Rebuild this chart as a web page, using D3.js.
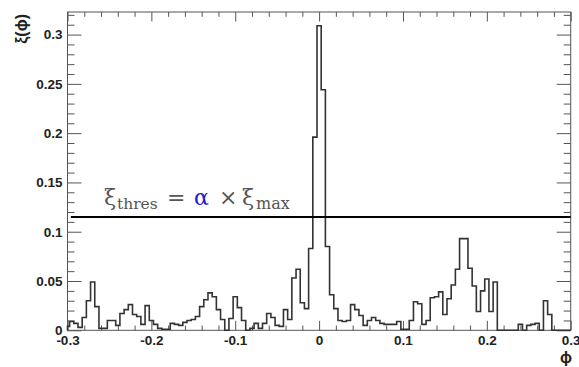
<!DOCTYPE html>
<html><head><meta charset="utf-8">
<script src="https://cdn.jsdelivr.net/npm/d3@7"></script>
<style>
html,body{margin:0;padding:0;background:#fff;}
svg{display:block;}
</style>
</head><body>
<svg id="chart" width="579" height="367"></svg>
<script>
// ---- data ----
const binLowEdge = -0.3025;
const binWidth = 0.005;
const binValues = [
  0.004, 0.009, 0.007, 0.003, 0.013, 0.030, 0.049, 0.024, 0.002, 0.002,
  0.010, 0.010, 0.005, 0.017, 0.021, 0.026, 0.016, 0.014, 0.006, 0.025,
  0.010, 0.006, 0.002, 0.001, 0.001, 0.007, 0.006, 0.005, 0.008, 0.010,
  0.011, 0.014, 0.024, 0.031, 0.038, 0.034, 0.021, 0.011, 0.000, 0.012,
  0.034, 0.023, 0.010, 0.000, 0.002, 0.007, 0.002, 0.007, 0.017, 0.013,
  0.005, 0.004, 0.021, 0.011, 0.053, 0.062, 0.028, 0.022, 0.083, 0.196,
  0.309, 0.244, 0.085, 0.036, 0.022, 0.010, 0.009, 0.010, 0.026, 0.021,
  0.015, 0.005, 0.010, 0.013, 0.010, 0.007, 0.006, 0.006, 0.006, 0.009,
  0.001, 0.001, 0.010, 0.029, 0.027, 0.006, 0.010, 0.033, 0.034, 0.039,
  0.016, 0.032, 0.046, 0.062, 0.093, 0.093, 0.063, 0.045, 0.019, 0.040,
  0.052, 0.019, 0.049, 0.000, 0.000, 0.000, 0.000, 0.000, 0.006, 0.000,
  0.005, 0.006, 0.007, 0.000, 0.030, 0.016, 0.000, 0.000, 0.000, 0.000,
  0.000
];
const xTickValues = [-0.3, -0.2, -0.1, 0, 0.1, 0.2, 0.3];
const xTickLabels = ["-0.3", "-0.2", "-0.1", "0", "0.1", "0.2", "0.3"];
const yTickValues = [0, 0.05, 0.1, 0.15, 0.2, 0.25, 0.3];
const yTickLabels = ["0", "0.05", "0.1", "0.15", "0.2", "0.25", "0.3"];
const thresholdValue = 0.115;
const xTitle = "\u03D5";
const yTitle = "\u03BE(\u03D5)";

// ---- layout ----
const W = 579, H = 367;
const m = {left: 67.5, right: 8.3, top: 12, bottom: 36.7};
const svg = d3.select("#chart");

const xDomain = [-0.3, 0.3];
const x = d3.scaleLinear().domain(xDomain).range([m.left, W - m.right]);
const yMax = d3.max(binValues) * 1.045;
const y = d3.scaleLinear().domain([0, yMax]).range([H - m.bottom, m.top]);

const axisColor = "#555";
const labelFont = "'Liberation Sans', Arial, 'DejaVu Sans', sans-serif";

// minor tick values
const xMinor = d3.range(-15, 16).map(i => i * 0.02).filter(v => !xTickValues.some(t => Math.abs(t - v) < 1e-9));
const yMinor = d3.range(0, 33).map(i => i * 0.01).filter(v => v <= yMax && !yTickValues.some(t => Math.abs(t - v) < 1e-9));

function styleAxis(g) {
  g.select(".domain").remove();
  g.selectAll("line").attr("stroke", axisColor).attr("stroke-width", 1);
  g.selectAll("text").attr("font-family", labelFont).attr("font-weight", "bold")
    .attr("font-size", 13.5).attr("fill", "#222");
}

const bottomY = H - m.bottom, topY = m.top, leftX = m.left, rightX = W - m.right;

// bottom axis
svg.append("g").attr("transform", `translate(0,${bottomY})`)
  .call(d3.axisBottom(x).tickValues(xTickValues).tickSizeInner(-9.5).tickSizeOuter(0).tickPadding(5.5)
    .tickFormat((d, i) => xTickLabels[i]))
  .call(styleAxis);
svg.append("g").attr("transform", `translate(0,${bottomY})`)
  .call(d3.axisBottom(x).tickValues(xMinor).tickSizeInner(-4.8).tickSizeOuter(0).tickFormat(""))
  .call(styleAxis);
// top axis
svg.append("g").attr("transform", `translate(0,${topY})`)
  .call(d3.axisTop(x).tickValues(xTickValues).tickSizeInner(-9.5).tickSizeOuter(0).tickFormat(""))
  .call(styleAxis);
svg.append("g").attr("transform", `translate(0,${topY})`)
  .call(d3.axisTop(x).tickValues(xMinor).tickSizeInner(-4.8).tickSizeOuter(0).tickFormat(""))
  .call(styleAxis);
// left axis
svg.append("g").attr("transform", `translate(${leftX},0)`)
  .call(d3.axisLeft(y).tickValues(yTickValues).tickSizeInner(-14).tickSizeOuter(0).tickPadding(5)
    .tickFormat((d, i) => yTickLabels[i]))
  .call(styleAxis);
svg.append("g").attr("transform", `translate(${leftX},0)`)
  .call(d3.axisLeft(y).tickValues(yMinor).tickSizeInner(-7).tickSizeOuter(0).tickFormat(""))
  .call(styleAxis);
// right axis
svg.append("g").attr("transform", `translate(${rightX},0)`)
  .call(d3.axisRight(y).tickValues(yTickValues).tickSizeInner(-14).tickSizeOuter(0).tickFormat(""))
  .call(styleAxis);
svg.append("g").attr("transform", `translate(${rightX},0)`)
  .call(d3.axisRight(y).tickValues(yMinor).tickSizeInner(-7).tickSizeOuter(0).tickFormat(""))
  .call(styleAxis);

// frame
svg.append("rect").attr("x", leftX).attr("y", topY)
  .attr("width", rightX - leftX).attr("height", bottomY - topY)
  .attr("fill", "none").attr("stroke", axisColor).attr("stroke-width", 1);

// histogram step outline
const clampX = v => Math.max(xDomain[0], Math.min(xDomain[1], v));
let p = d3.path();
p.moveTo(x(clampX(binLowEdge)), y(0));
binValues.forEach((v, i) => {
  const lo = clampX(binLowEdge + i * binWidth);
  const hi = clampX(binLowEdge + (i + 1) * binWidth);
  p.lineTo(x(lo), y(v));
  p.lineTo(x(hi), y(v));
});
p.lineTo(x(clampX(binLowEdge + binValues.length * binWidth)), y(0));
svg.append("path").attr("d", p.toString())
  .attr("fill", "none").attr("stroke", "#333").attr("stroke-width", 1.6)
  .attr("stroke-linejoin", "miter");

// threshold line
svg.append("line")
  .attr("x1", x(-0.296)).attr("x2", x(0.3))
  .attr("y1", y(thresholdValue)).attr("y2", y(thresholdValue))
  .attr("stroke", "#000").attr("stroke-width", 2);

// formula label
const serif = "'DejaVu Serif', 'Liberation Serif', serif";
const lab = svg.append("g").attr("font-family", serif).attr("fill", "#555");
const mainBase = 204.5, subBase = 209;
const parts = [
  {t: "\u03BE", x: 104, y: mainBase, s: 22},
  {t: "thres", x: 117, y: subBase, s: 15.5},
  {t: "=", x: 167, y: mainBase, s: 22},
  {t: "\u03B1", x: 194, y: mainBase, s: 22, c: "#2020d0"},
  {t: "\u00D7", x: 219, y: mainBase, s: 22},
  {t: "\u03BE", x: 242, y: mainBase, s: 22},
  {t: "max", x: 256, y: subBase, s: 16}
];
parts.forEach(d => {
  lab.append("text").attr("x", d.x).attr("y", d.y).attr("font-size", d.s)
    .attr("fill", d.c || "#555").text(d.t);
});

// axis titles
svg.append("text")
  .attr("transform", `translate(27,14) rotate(-90)`)
  .attr("text-anchor", "end")
  .attr("font-family", labelFont).attr("font-weight", "bold").attr("font-size", 16).attr("fill", "#222")
  .text(yTitle);
svg.append("text")
  .attr("x", 572).attr("y", 363).attr("text-anchor", "end")
  .attr("font-family", labelFont).attr("font-weight", "bold").attr("font-size", 16).attr("fill", "#222")
  .text(xTitle);
</script>
</body></html>
